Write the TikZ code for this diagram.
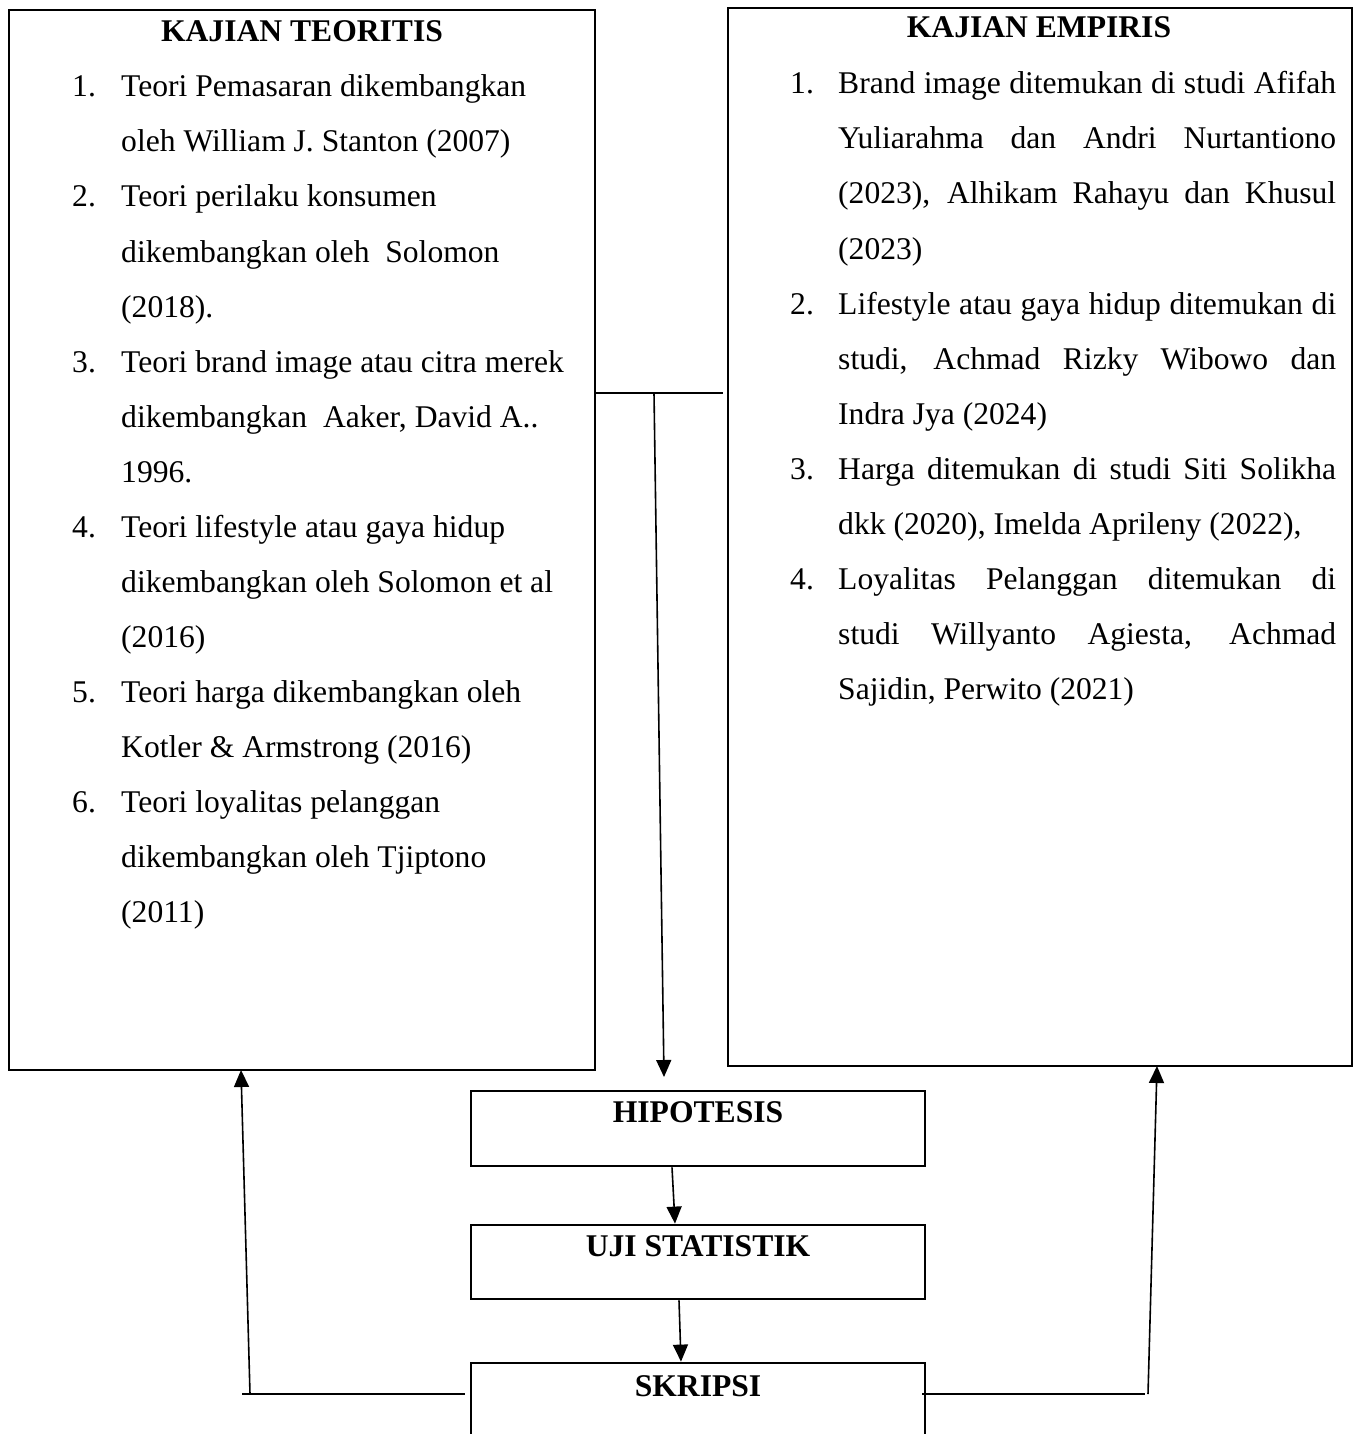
\documentclass[tikz,border=0pt]{standalone}
\usepackage{fontspec}
\setmainfont{Liberation Serif}
\usepackage{tikz}
\usetikzlibrary{arrows.meta, positioning}

\tikzset{
  panel/.style={draw=black, line width=2.8pt, inner sep=0pt},
  body/.style={inner sep=0pt, font=\fontsize{31.6}{55}\selectfont},
  head/.style={inner sep=0pt, font=\fontsize{31.6}{55}\selectfont\bfseries},
  conn/.style={line width=1.6pt},
  arr/.style={conn, -{Triangle[length=17pt, width=15pt]}},
}

\begin{document}
\begin{tikzpicture}[x=1pt, y=-1pt]
    \path[use as bounding box, clip] (0,0) rectangle (1357,1434);

    % Boxes
    \node[panel, minimum width=586pt, minimum height=1060pt] (teoritis) at (302,540) {};
    \node[panel, minimum width=624pt, minimum height=1058pt] (empiris) at (1040,537) {};
    \node[panel, minimum width=454pt, minimum height=75pt] (hipotesis) at (698,1128.5) {};
    \node[panel, minimum width=454pt, minimum height=74pt] (ujistat) at (698,1262) {};
    \node[panel, minimum width=454pt, minimum height=120pt] (skripsi) at (698,1423) {};

    % Titles
    \node[head, anchor=base] (tteo) at (302,42) {KAJIAN TEORITIS};
    \node[head, anchor=base] (temp) at (1039,38) {KAJIAN EMPIRIS};
    \node[head, anchor=base] (thip) at (698,1122) {HIPOTESIS};
    \node[head, anchor=base] (tuji) at (698,1256) {UJI STATISTIK};
    \node[head, anchor=base] (tskr) at (698,1396) {SKRIPSI};

    % Left list
    \foreach \n/\k in {1/0, 2/2, 3/5, 4/8, 5/11, 6/13}
      \node[body, anchor=base west] (nl\n) at (72,{97+55*\k}) {\n.};
    \foreach \txt [count=\k from 0] in {
        {Teori Pemasaran dikembangkan},
        {oleh William J. Stanton (2007)},
        {Teori perilaku konsumen},
        {dikembangkan oleh\ \ Solomon},
        {(2018).},
        {Teori brand image atau citra merek},
        {dikembangkan\ \ Aaker, David A..},
        {1996.},
        {Teori lifestyle atau gaya hidup},
        {dikembangkan oleh Solomon et al},
        {(2016)},
        {Teori harga dikembangkan oleh},
        {Kotler \& Armstrong (2016)},
        {Teori loyalitas pelanggan},
        {dikembangkan oleh Tjiptono},
        {(2011)}}
      \node[body, anchor=base west] (tl\k) at (121,{97+55*\k}) {\txt};

    % Right list
    \foreach \n/\k in {1/0, 2/4, 3/7, 4/9}
      \node[body, anchor=base west] (nr\n) at (790,{94+55*\k}) {\n.};
    \foreach \txt [count=\k from 0] in {
        {\makebox[498pt][s]{Brand image ditemukan di studi Afifah}},
        {\makebox[498pt][s]{Yuliarahma dan Andri Nurtantiono}},
        {\makebox[498pt][s]{(2023), Alhikam Rahayu dan Khusul}},
        {(2023)},
        {\makebox[498pt][s]{Lifestyle atau gaya hidup ditemukan di}},
        {\makebox[498pt][s]{studi, Achmad Rizky Wibowo dan}},
        {Indra Jya (2024)},
        {\makebox[498pt][s]{Harga ditemukan di studi Siti Solikha}},
        {dkk (2020), Imelda Aprileny (2022),},
        {\makebox[498pt][s]{Loyalitas Pelanggan ditemukan di}},
        {\makebox[498pt][s]{studi Willyanto Agiesta, Achmad}},
        {Sajidin, Perwito (2021)}}
      \node[body, anchor=base west] (tr\k) at (838,{94+55*\k}) {\txt};

    % Join between the two reviews, down to the hypothesis
    \coordinate (jl) at (teoritis.east |- 0,393);
    \coordinate (jr) at (723,393);
    \coordinate (jm) at (654,393);
    \coordinate (jt) at (664,1077);
    \draw[conn] (jl) -- (jr);
    \draw[arr] (jm) -- (jt);

    % Flow down
    \draw[arr] ([xshift=-26pt]hipotesis.south) -- ([xshift=-23pt]ujistat.north);
    \draw[arr] ([xshift=-19pt]ujistat.south) -- ([xshift=-17pt]skripsi.north);

    % Feedback from skripsi
    \coordinate (bl) at (242,1394);
    \coordinate (bl2) at (465,1394);
    \coordinate (cl) at (250,1394);
    \coordinate (el) at (241,1070);
    \draw[conn] (bl) -- (bl2);
    \draw[arr] (cl) -- (el);

    \coordinate (br) at (922,1394);
    \coordinate (br2) at (1145,1394);
    \coordinate (cr) at (1148,1394);
    \coordinate (er) at (1157,1066);
    \draw[conn] (br) -- (br2);
    \draw[arr] (cr) -- (er);
\end{tikzpicture}
\end{document}
